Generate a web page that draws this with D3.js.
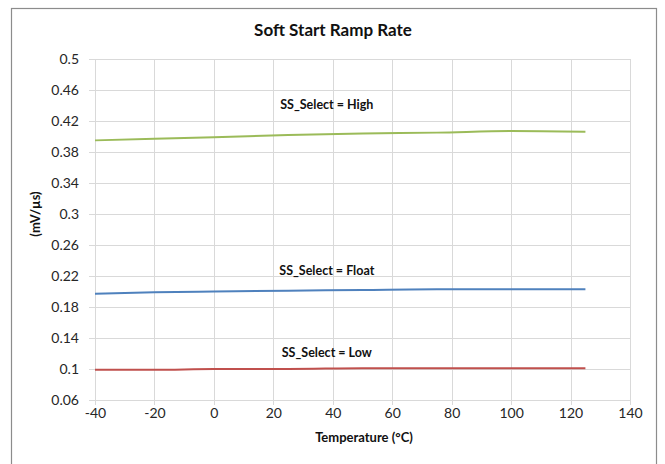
<!DOCTYPE html>
<html><head><meta charset="utf-8">
<script src="https://cdn.jsdelivr.net/npm/d3@7"></script>
<style>body{margin:0;background:#fff}svg{display:block}</style>
</head><body>
<script>
const temps = [-40, -20, 0, 25, 50, 75, 100, 125];
const high  = [0.395, 0.397, 0.399, 0.402, 0.404, 0.405, 0.407, 0.406];
const float_ = [0.197, 0.199, 0.200, 0.201, 0.202, 0.203, 0.203, 0.203];
const low   = [0.099, 0.099, 0.100, 0.100, 0.101, 0.101, 0.101, 0.101];
const seriesNames = ["SS_Select = High", "SS_Select = Float", "SS_Select = Low"];
const seriesColors = ["#9bbb59", "#4f81bd", "#c0504d"];
const xTicks = [-40, -20, 0, 20, 40, 60, 80, 100, 120, 140];
const yTicks = [0.06, 0.1, 0.14, 0.18, 0.22, 0.26, 0.3, 0.34, 0.38, 0.42, 0.46, 0.5];
const labelPos = [[38, 0.435], [38, 0.221], [38, 0.115]]; // label anchor in data units (temp, value)

const W = 665, H = 464;
const svg = d3.select("body").append("svg").attr("width", W).attr("height", H);
const font = "Lato, 'Open Sans', sans-serif";

svg.append("rect").attr("x", 11.5).attr("y", 8.5).attr("width", 645).attr("height", 470)
  .attr("fill", "#fff").attr("stroke", "#8c8c8c").attr("stroke-width", 1.2);

const x = d3.scaleLinear().domain([-40, 140]).range([95, 630]);
const y = d3.scaleLinear().domain([0.06, 0.5]).range([400, 59]);

const g = svg.append("g");
g.selectAll(".vg").data(xTicks).join("line")
  .attr("x1", d => Math.round(x(d)) + 0.5).attr("x2", d => Math.round(x(d)) + 0.5)
  .attr("y1", y(0.5)).attr("y2", y(0.06) + 5)
  .attr("stroke", "#d9d9d9").attr("stroke-width", 1);
g.selectAll(".hg").data(yTicks).join("line")
  .attr("x1", x(-40) - 6).attr("x2", x(140))
  .attr("y1", d => Math.round(y(d)) + 0.5).attr("y2", d => Math.round(y(d)) + 0.5)
  .attr("stroke", "#d9d9d9").attr("stroke-width", 1);

const xAxis = svg.append("g").attr("transform", `translate(0,${y(0.06)})`)
  .call(d3.axisBottom(x).tickValues(xTicks).tickSize(0).tickPadding(8).tickFormat(d => String(d)));
const yAxis = svg.append("g").attr("transform", `translate(${x(-40)},0)`)
  .call(d3.axisLeft(y).tickValues(yTicks).tickSize(0).tickPadding(16).tickFormat(d => String(+d.toFixed(2))));
[xAxis, yAxis].forEach(a => {
  a.select(".domain").remove();
  a.selectAll("text").attr("font-family", font).attr("font-size", 14).attr("fill", "#262626");
});

const line = d3.line().x((d, i) => x(temps[i])).y(d => y(d)).curve(d3.curveMonotoneX);
[high, float_, low].forEach((s, i) => {
  svg.append("path").datum(s).attr("d", line).attr("fill", "none")
    .attr("stroke", seriesColors[i]).attr("stroke-width", 2);
});

seriesNames.forEach((n, i) => {
  svg.append("text").attr("x", x(labelPos[i][0])).attr("y", y(labelPos[i][1]))
    .attr("text-anchor", "middle").attr("font-family", font).attr("font-weight", "bold")
    .attr("font-size", 12.5).attr("fill", "#111").text(n);
});

svg.append("text").attr("x", 333).attr("y", 36).attr("text-anchor", "middle")
  .attr("font-family", font).attr("font-weight", "bold").attr("font-size", 17).attr("fill", "#111")
  .text("Soft Start Ramp Rate");
svg.append("text").attr("x", 364).attr("y", 442).attr("text-anchor", "middle")
  .attr("font-family", font).attr("font-weight", "bold").attr("font-size", 13).attr("fill", "#111")
  .text("Temperature (°C)");
svg.append("text").attr("transform", `translate(40,${y(0.3)}) rotate(-90)`).attr("text-anchor", "middle")
  .attr("font-family", font).attr("font-weight", "bold").attr("font-size", 13).attr("fill", "#111")
  .text("(mV/µs)");
</script>
</body></html>
